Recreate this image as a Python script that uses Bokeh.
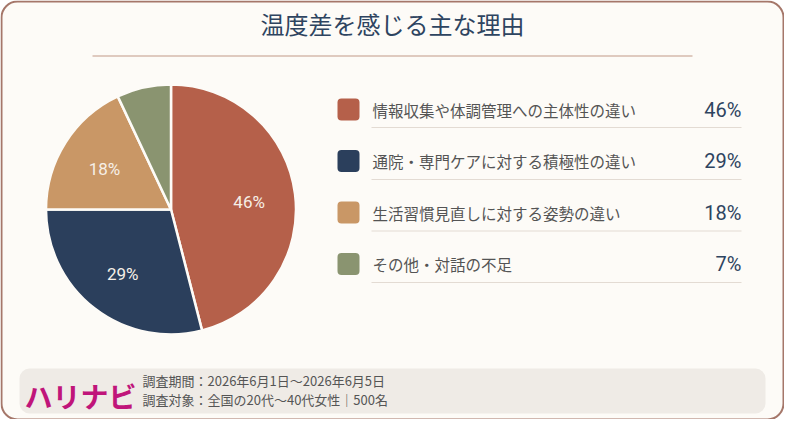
import numpy as np
from bokeh.plotting import figure
from bokeh.models import Range1d, BoxAnnotation, ColumnDataSource
from bokeh.core.properties import value
from bokeh.embed import file_html
from bokeh.resources import INLINE

title = "温度差を感じる主な理由"
labels = [
    "情報収集や体調管理への主体性の違い",
    "通院・専門ケアに対する積極性の違い",
    "生活習慣見直しに対する姿勢の違い",
    "その他・対話の不足",
]
shares = [46, 29, 18, 7]
colors = ["#B5604A", "#2B3F5C", "#C99766", "#8A9470"]
brand = "ハリナビ"
notes = [
    "調査期間：2026年6月1日～2026年6月5日",
    "調査対象：全国の20代～40代女性｜500名",
]

W, H = 784, 419
JP = value("Noto Sans CJK JP")
NUM = value("Roboto")


def X(px):
    return px - 8


def Y(py):
    return H + 8 - py


p = figure(width=W, height=H, x_range=Range1d(0, W), y_range=Range1d(0, H),
           output_backend="svg", toolbar_location=None, min_border=0)
p.axis.visible = False
p.grid.visible = False
p.outline_line_color = None
p.background_fill_color = "#FFFFFF"
p.border_fill_color = "#FFFFFF"

# card frame
p.add_layout(BoxAnnotation(left=X(9), right=X(791), top=Y(9), bottom=Y(427),
                           fill_color="#FDFBF7", fill_alpha=1, line_color="#A5776A",
                           line_alpha=1, line_width=2, border_radius=16, level="underlay"))

# title
p.text(x=[X(400)], y=[Y(31)], text=[title], text_font=JP, text_font_size="24px",
       text_color="#2E4460", text_align="center", text_baseline="middle")
p.line(x=[X(100), X(700)], y=[Y(63.5), Y(63.5)], line_color="#C29A88", line_width=1.2)

# pie
cx, cy, R = 178.5, 217, 125
frac = np.array(shares) / sum(shares)
cum = np.concatenate([[0], np.cumsum(frac)])
start = np.pi / 2 - 2 * np.pi * cum[:-1]
end = np.pi / 2 - 2 * np.pi * cum[1:]
pie = ColumnDataSource(dict(start=start, end=end, color=colors))
p.wedge(x=X(cx), y=Y(cy), radius=R, radius_units="screen", start_angle="start",
        end_angle="end", direction="clock", fill_color="color", line_color="#FDFBF7",
        line_width=2.5, source=pie)

mid = (start + end) / 2
lab_r = 0.63 * R
big = [i for i, s in enumerate(shares) if s >= 10]
p.text(x=[X(cx) + lab_r * np.cos(mid[i]) for i in big],
       y=[Y(cy) + lab_r * np.sin(mid[i]) - 2 for i in big],
       text=[f"{shares[i]}%" for i in big], text_font=NUM, text_font_size="17px",
       text_color="#F6EFE7", text_align="center", text_baseline="middle")

# legend rows
row_y = [117, 168.5, 220, 271.5]
sep_y = [135, 187, 238.5, 290]
p.rect(x=[X(356)] * 4, y=[Y(v) for v in row_y], width=22, height=22,
       fill_color=colors, line_color=None, border_radius=4)
p.text(x=[X(380)] * 4, y=[Y(v) for v in row_y], text=labels, text_font=JP,
       text_font_size="15.5px", text_color="#545454", text_baseline="middle")
p.text(x=[X(749)] * 4, y=[Y(v) for v in row_y], text=[f"{s}%" for s in shares],
       text_font=NUM, text_font_size="20px", text_color="#2E4460",
       text_align="right", text_baseline="middle")
for v in sep_y:
    p.line(x=[X(379), X(749)], y=[Y(v), Y(v)], line_color="#E3DBD3", line_width=1.2)

# footer
p.add_layout(BoxAnnotation(left=X(27), right=X(773), top=Y(376), bottom=Y(421),
                           fill_color="#EFEBE6", fill_alpha=1, line_color=None,
                           border_radius=10, level="underlay"))
p.text(x=[X(32)], y=[Y(403)], text=[brand], text_font=JP, text_font_size="28px",
       text_font_style="bold", text_color="#C0157A", text_baseline="middle")
p.text(x=[X(150)] * 2, y=[Y(387.5), Y(407)], text=notes, text_font=JP,
       text_font_size="13px", text_color="#555555", text_baseline="middle")

open("out.html", "w").write(file_html(p, INLINE))
